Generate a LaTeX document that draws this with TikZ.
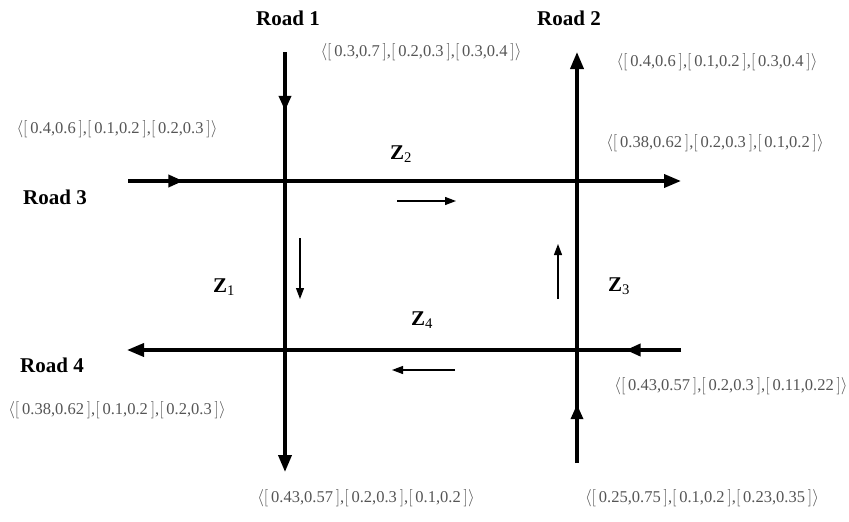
\documentclass[tikz,border=0pt]{standalone}
\usepackage{fontspec}
\setmainfont{Liberation Serif}
\usetikzlibrary{arrows.meta,decorations.markings}
\definecolor{tupgray}{HTML}{555555}
\newcommand{\tup}[6]{$\Bigl\langle\Bigl[\,\mbox{#1,#2}\,\Bigr]\mbox{,}\Bigl[\,\mbox{#3,#4}\,\Bigr]\mbox{,}\Bigl[\,\mbox{#5,#6}\,\Bigr]\Bigr\rangle$}
\tikzset{
  road/.style={line width=3.6pt, -{Triangle[length=17pt,width=13pt]}},
  midarrow/.style={postaction={decorate}, decoration={markings,
    mark=at position #1 with {\arrow{Triangle[length=15pt,width=12pt]}}}},
  flow/.style={line width=1.2pt, -{Triangle[length=11pt,width=8pt]}},
  roadlabel/.style={font=\fontsize{21}{21}\selectfont\bfseries},
  zone/.style={font=\fontsize{21}{21}\selectfont},
  tuple/.style={text=tupgray, font=\fontsize{16.5}{16.5}\selectfont},
}

\begin{document}
\begin{tikzpicture}[x=1pt, y=-1pt, every node/.style={inner sep=0pt}]

\useasboundingbox (0,0) rectangle (849,522);

% road ends
\coordinate (r1a) at (285,52);
\coordinate (r1b) at (285,472);
\coordinate (r2a) at (577,463);
\coordinate (r2b) at (577,52);
\coordinate (r3a) at (128,181);
\coordinate (r3b) at (681,181);
\coordinate (r4a) at (681,350);
\coordinate (r4b) at (127,350);

% the four roads
\draw[road, midarrow=0.14] (r1a) -- (r1b);
\draw[road, midarrow=0.143] (r2a) -- (r2b);
\draw[road, midarrow=0.10] (r3a) -- (r3b);
\draw[road, midarrow=0.10] (r4a) -- (r4b);

% circulation inside the block
\coordinate (f1a) at (397,201);
\coordinate (f1b) at (456,201);
\coordinate (f2a) at (300,238);
\coordinate (f2b) at (300,299);
\coordinate (f3a) at (558,299);
\coordinate (f3b) at (558,244);
\coordinate (f4a) at (455,370);
\coordinate (f4b) at (392,370);
\draw[flow] (f1a) -- (f1b);
\draw[flow] (f2a) -- (f2b);
\draw[flow] (f3a) -- (f3b);
\draw[flow] (f4a) -- (f4b);

% road names
\node[roadlabel] (road1) at (288,18) {Road 1};
\node[roadlabel] (road2) at (569,18) {Road 2};
\node[roadlabel] (road3) at (55,197) {Road 3};
\node[roadlabel] (road4) at (52,365) {Road 4};

% zones
\node[zone] (z1) at (224,287) {\textbf{Z}\textsubscript{1}};
\node[zone] (z2) at (401,154) {\textbf{Z}\textsubscript{2}};
\node[zone] (z3) at (619,286) {\textbf{Z}\textsubscript{3}};
\node[zone] (z4) at (422,320) {\textbf{Z}\textsubscript{4}};

% interval values
\node[tuple] (t1) at (421,52) {\tup{0.3}{0.7}{0.2}{0.3}{0.3}{0.4}};
\node[tuple] (t2) at (717,62) {\tup{0.4}{0.6}{0.1}{0.2}{0.3}{0.4}};
\node[tuple] (t3) at (117,129) {\tup{0.4}{0.6}{0.1}{0.2}{0.2}{0.3}};
\node[tuple] (t4) at (715,143) {\tup{0.38}{0.62}{0.2}{0.3}{0.1}{0.2}};
\node[tuple] (t5) at (117,410) {\tup{0.38}{0.62}{0.1}{0.2}{0.2}{0.3}};
\node[tuple] (t6) at (731,386) {\tup{0.43}{0.57}{0.2}{0.3}{0.11}{0.22}};
\node[tuple] (t7) at (366,498) {\tup{0.43}{0.57}{0.2}{0.3}{0.1}{0.2}};
\node[tuple] (t8) at (702,498) {\tup{0.25}{0.75}{0.1}{0.2}{0.23}{0.35}};

\end{tikzpicture}
\end{document}
